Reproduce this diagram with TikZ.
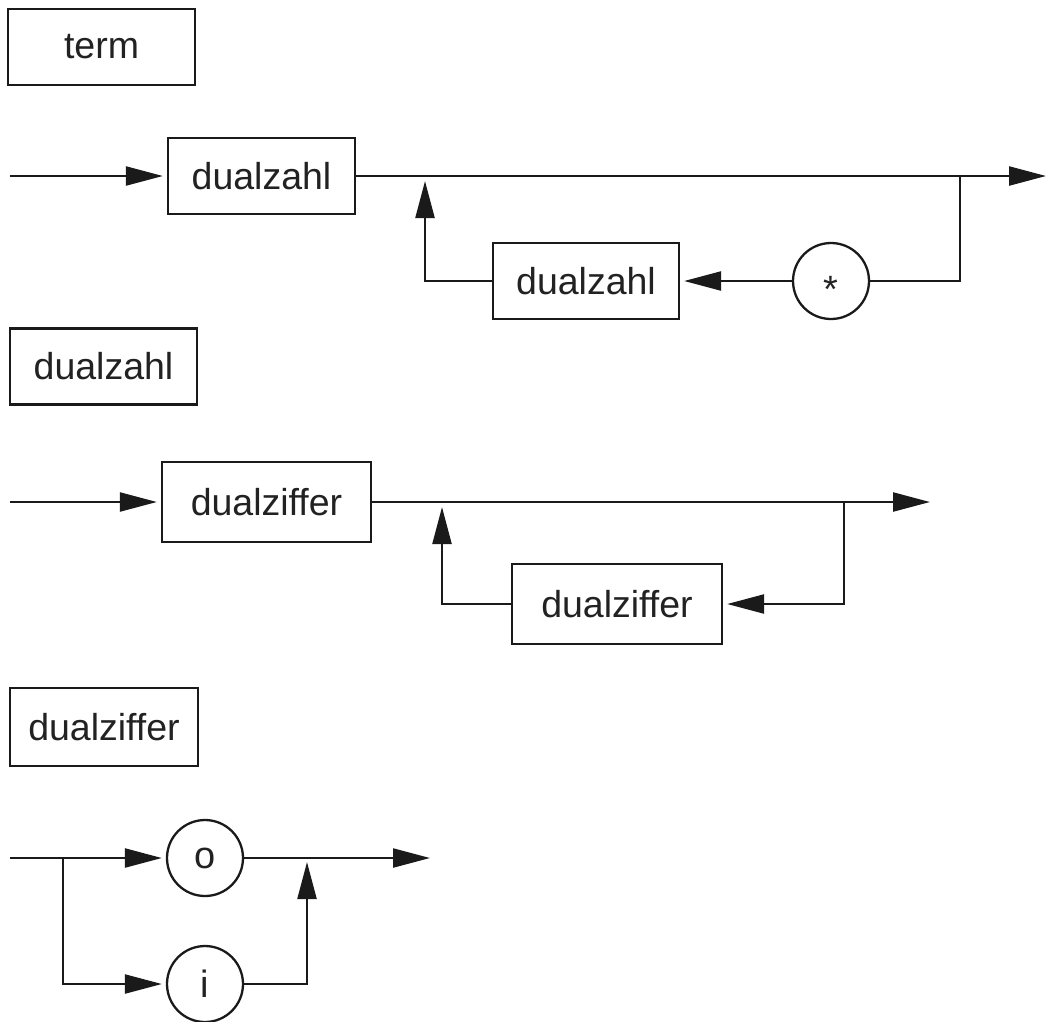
\documentclass[tikz,border=0pt]{standalone}
\usepackage{fontspec}
\setmainfont{Liberation Sans}
\usetikzlibrary{arrows.meta}
\definecolor{ink}{HTML}{222222}
\definecolor{stroke}{HTML}{1A1A1A}
\begin{document}
\begin{tikzpicture}[x=1pt,y=-1pt,line width=2.3pt,draw=stroke,
  box/.style={draw=stroke,rectangle,inner sep=0pt,text=ink,font=\fontsize{37.5}{40}\selectfont},
  circ/.style={draw=stroke,circle,inner sep=0pt,minimum size=76pt,text=ink,font=\fontsize{38}{40}\selectfont},
  arr/.style={-{Triangle[length=37pt,width=19pt]}},
]
\useasboundingbox (0,0) rectangle (1048,1021);

% ---- term ----
\node[box,minimum width=187pt,minimum height=76pt] (term) at (101.5,47) {term};
\node[box,minimum width=187pt,minimum height=76pt] (dzA) at (261.5,176) {dualzahl};
\node[box,minimum width=186pt,minimum height=76pt] (dzB) at (586,281) {dualzahl};
\node[circ] (star) at (831,281) {\smash{\raisebox{-0.57em}{*}}};
\coordinate (in1) at (10,176);
\coordinate (out1) at (1046,176);
\coordinate (j1) at (425,176);
\coordinate (k1) at (960,176);
\draw[arr,shorten >=4pt] (in1) -- (dzA.west);
\draw[arr] (dzA.east) -- (out1);
\draw (k1) |- (star.east);
\draw[arr,shorten >=4pt] (star.west) -- (dzB.east);
\draw[arr,shorten >=5pt] (dzB.west) -| (j1);

% ---- dualzahl ----
\node[box,minimum width=187pt,minimum height=76pt] (lab2) at (103.5,366.5) {dualzahl};
\node[box,minimum width=209pt,minimum height=80pt] (zfA) at (266.5,502) {dualziffer};
\node[box,minimum width=210pt,minimum height=80pt] (zfB) at (617,604) {dualziffer};
\coordinate (in2) at (10,502);
\coordinate (out2) at (930,502);
\coordinate (j2) at (442,502);
\coordinate (k2) at (844,502);
\draw[arr,shorten >=4pt] (in2) -- (zfA.west);
\draw[arr] (zfA.east) -- (out2);
\draw[arr,shorten >=4pt] (k2) |- (zfB.east);
\draw[arr,shorten >=5pt] (zfB.west) -| (j2);

% ---- dualziffer ----
\node[box,minimum width=188pt,minimum height=78pt] (lab3) at (104,727) {dualziffer};
\node[circ] (o) at (205,858) {o};
\node[circ] (i) at (205,984) {i};
\coordinate (in3) at (10,858);
\coordinate (b3) at (63,858);
\coordinate (out3) at (430,858);
\coordinate (j3) at (307,858);
\draw (in3) -- (b3);
\draw[arr,shorten >=4pt] (b3) -- (o.west);
\draw[arr,shorten >=4pt] (b3) |- (i.west);
\draw[arr] (o.east) -- (out3);
\draw[arr,shorten >=4pt] (i.east) -| (j3);
\end{tikzpicture}
\end{document}
